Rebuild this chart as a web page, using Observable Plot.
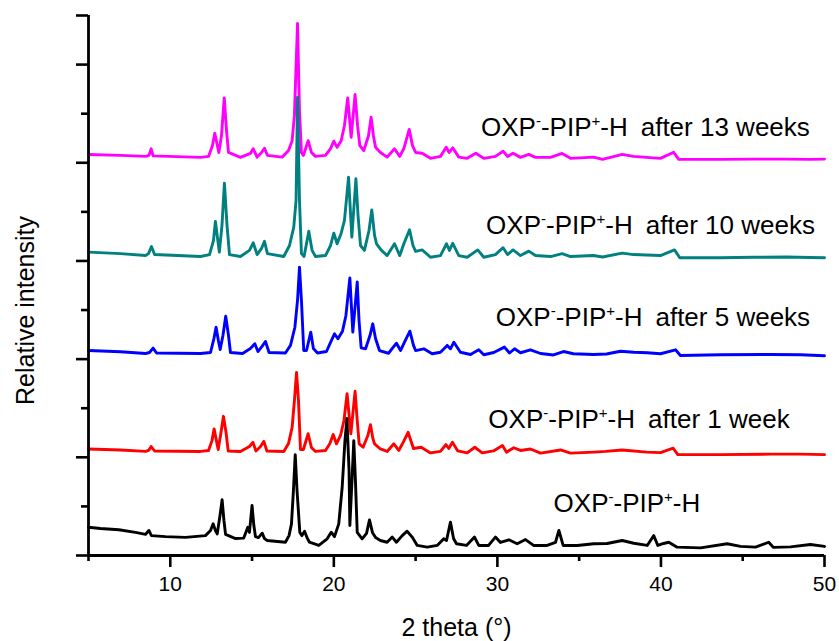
<!DOCTYPE html>
<html><head><meta charset="utf-8">
<script src="https://cdn.jsdelivr.net/npm/d3@7"></script>
<script src="https://cdn.jsdelivr.net/npm/@observablehq/plot@0.6"></script>
<style>body{margin:0;background:#fff} svg{display:block}</style>
</head><body><div id="chart"></div>
<script>
// ---- Data (2θ in degrees, intensity in a.u. relative to each trace's baseline) ----
const seriesNames = ["after 13 weeks", "after 10 weeks", "after 5 weeks", "after 1 week", "initial"];
const seriesLabels = ["OXP⁻-PIP⁺-H\u2002after 13 weeks", "OXP⁻-PIP⁺-H\u2002after 10 weeks", "OXP⁻-PIP⁺-H\u2002after 5 weeks", "OXP⁻-PIP⁺-H\u2002after 1 week", "OXP⁻-PIP⁺-H"];
const offsets = [8150, 6150, 4150, 2150, 0];

const week13 = [[5.0,20],[6.96,0],[8.49,-20],[8.7,0],[8.83,134],[8.95,-10],[11.85,-40],[12.34,-20],[12.58,200],[12.72,450],[12.97,60],[13.13,400],[13.30,1170],[13.44,500],[13.56,60],[14.29,-40],[14.9,40],[15.07,135],[15.31,-35],[15.58,60],[15.76,145],[15.94,0],[16.84,-35],[17.23,100],[17.45,300],[17.59,810],[17.78,2690],[17.90,910],[18.02,60],[18.14,0],[18.43,300],[18.63,60],[18.88,-20],[19.49,0],[19.8,140],[20.0,290],[20.2,165],[20.45,300],[20.65,610],[20.85,1170],[21.06,370],[21.30,1240],[21.45,610],[21.59,200],[21.83,100],[22.12,400],[22.28,780],[22.42,400],[22.55,165],[22.85,60],[23.26,-35],[23.71,135],[24.03,-20],[24.28,140],[24.61,530],[24.81,200],[25.0,60],[25.40,45],[25.91,-60],[26.52,-20],[26.87,165],[27.05,60],[27.27,155],[27.64,-35],[28.15,-60],[28.68,45],[29.17,-60],[29.88,-20],[30.35,85],[30.62,-20],[30.96,45],[31.41,-40],[31.92,20],[32.33,-40],[33.25,-40],[33.96,40],[34.47,-60],[35.89,-35],[36.43,-80],[37.63,20],[38.32,-20],[39.12,-40],[39.97,-60],[40.78,65],[41.09,-80],[43.64,-80],[45.66,-75],[47.68,-75],[49.14,-80],[50,-75]];

const week10 = [[5.0,30],[6.96,0],[8.49,-40],[8.67,0],[8.85,145],[9.04,-20],[11.85,-60],[12.4,-20],[12.64,265],[12.76,655],[12.89,310],[13.0,30],[13.16,570],[13.31,1435],[13.47,570],[13.62,-20],[14.29,-60],[14.84,65],[15.07,220],[15.31,-20],[15.58,105],[15.76,250],[15.94,0],[16.94,-60],[17.29,165],[17.55,540],[17.69,1080],[17.78,3180],[17.90,1080],[18.02,0],[18.18,-60],[18.47,455],[18.67,65],[18.88,-60],[19.49,-40],[19.8,165],[20.0,415],[20.2,200],[20.45,415],[20.65,675],[20.9,1555],[21.1,335],[21.35,1525],[21.48,775],[21.63,165],[21.87,65],[22.15,470],[22.32,890],[22.49,370],[22.61,200],[22.91,65],[23.26,-40],[23.71,200],[24.03,-40],[24.28,200],[24.63,485],[24.84,165],[25.0,45],[25.40,75],[25.91,-75],[26.52,-40],[26.89,200],[27.07,65],[27.27,210],[27.64,-40],[28.15,-75],[28.8,75],[29.17,-75],[29.88,-20],[30.35,120],[30.62,-20],[30.96,75],[31.41,-40],[31.92,50],[32.33,-40],[33.25,-60],[33.96,0],[34.47,-60],[35.87,-40],[36.43,-70],[37.63,10],[38.32,-20],[39.12,-30],[39.97,-40],[40.83,75],[41.15,-85],[43.64,-85],[45.66,-75],[47.68,-70],[49.14,-80],[50,-85]];

const week5 = [[5.0,25],[6.96,0],[8.49,-35],[8.73,-15],[8.95,75],[9.16,-25],[11.85,-35],[12.46,-15],[12.67,270],[12.80,500],[12.94,230],[13.05,45],[13.22,330],[13.39,725],[13.56,330],[13.68,-15],[14.42,-35],[14.9,65],[15.17,165],[15.36,5],[15.61,110],[15.82,210],[16.04,-15],[17.04,-25],[17.35,130],[17.62,500],[17.78,1045],[17.90,1725],[18.02,1045],[18.16,25],[18.33,25],[18.59,400],[18.75,65],[19.0,-25],[19.55,5],[19.8,190],[20.04,365],[20.25,265],[20.53,420],[20.74,740],[20.98,1505],[21.16,400],[21.43,1420],[21.54,640],[21.67,80],[21.94,60],[22.21,330],[22.38,570],[22.55,270],[22.79,25],[23.34,-30],[23.83,175],[24.08,25],[24.32,195],[24.65,420],[24.87,130],[25.0,25],[25.5,60],[26.01,-40],[26.52,-10],[26.93,130],[27.13,60],[27.34,195],[27.74,-10],[28.36,-55],[28.86,40],[29.17,-60],[29.78,-15],[30.43,95],[30.74,-25],[31.05,60],[31.41,-20],[32.02,40],[32.64,-35],[33.43,-65],[34.04,5],[34.65,-40],[35.87,-55],[36.67,-45],[37.53,10],[38.34,-10],[39.16,-20],[39.97,-40],[40.89,40],[41.19,-75],[43.64,-60],[46.7,-55],[48.53,-60],[50,-80]];

const week1 = [[5.0,20],[6.96,0],[8.49,-30],[8.67,-10],[8.83,70],[9.04,-20],[11.85,-30],[12.34,-10],[12.55,190],[12.68,430],[12.82,190],[12.93,10],[13.1,355],[13.25,685],[13.41,355],[13.54,-20],[14.29,-30],[14.84,70],[15.05,155],[15.24,-20],[15.52,70],[15.72,175],[15.91,-20],[16.94,-30],[17.23,130],[17.45,460],[17.59,1005],[17.72,1580],[17.84,1005],[17.96,10],[18.14,10],[18.43,330],[18.63,50],[18.88,-30],[19.49,-10],[19.76,130],[19.96,315],[20.16,125],[20.41,295],[20.62,600],[20.81,1145],[21.04,330],[21.30,1195],[21.43,600],[21.55,125],[21.79,55],[22.08,295],[22.24,515],[22.39,230],[22.49,125],[22.85,20],[23.26,-30],[23.67,125],[23.97,-10],[24.24,155],[24.54,360],[24.87,30],[25.34,55],[25.91,-60],[26.52,-30],[26.85,110],[27.03,30],[27.25,155],[27.58,-20],[28.15,-60],[28.62,55],[29.07,-60],[29.76,-20],[30.31,90],[30.56,-45],[31.0,45],[31.41,-10],[32.02,20],[32.64,-65],[33.86,0],[34.47,-65],[35.89,-45],[36.61,-30],[37.63,0],[39.12,-45],[39.97,-55],[40.75,35],[41.03,-95],[43.64,-95],[46.7,-85],[48.53,-85],[50,-95]];

const initial = [[5.0,575],[5.73,550],[6.85,525],[7.87,470],[8.49,430],[8.69,510],[8.85,405],[9.71,385],[10.93,370],[12.15,405],[12.46,510],[12.62,645],[12.76,510],[12.87,440],[13.04,815],[13.17,1135],[13.28,715],[13.38,430],[13.99,345],[14.49,355],[14.74,575],[14.84,470],[15.0,1020],[15.11,610],[15.21,385],[15.39,365],[15.62,455],[15.76,345],[15.93,305],[17.04,270],[17.26,405],[17.41,645],[17.53,1325],[17.64,2055],[17.75,1325],[17.92,470],[18.05,405],[18.21,495],[18.36,365],[18.51,270],[19.08,205],[19.59,340],[19.84,475],[20.04,385],[20.3,645],[20.51,1390],[20.68,2340],[20.8,2790],[20.93,1730],[20.98,610],[21.11,1530],[21.22,2340],[21.32,1530],[21.43,470],[21.73,340],[22.0,450],[22.18,725],[22.36,470],[22.55,365],[22.85,305],[23.26,270],[23.57,375],[23.83,270],[24.18,405],[24.48,495],[24.79,375],[25.1,205],[25.71,170],[26.32,205],[26.72,340],[26.89,305],[27.13,680],[27.32,345],[27.5,240],[28.11,205],[28.6,375],[28.86,205],[29.46,205],[29.88,375],[30.19,265],[30.7,320],[31.21,240],[31.72,325],[32.21,205],[33.04,205],[33.55,265],[33.76,510],[34.02,205],[34.88,205],[35.89,240],[36.71,245],[37.63,305],[38.34,250],[39.16,205],[39.56,405],[39.81,205],[40.16,245],[40.48,270],[40.99,170],[42.42,155],[44.05,240],[44.86,185],[45.78,170],[46.59,270],[46.88,165],[47.92,175],[49.14,225],[50,185]];

const xMajor = [10, 20, 30, 40, 50];
const xMinor = [5, 15, 25, 35, 45];
const yMajor = [0, 2000, 4000, 6000, 8000, 10000, 11000];
const yMinor = [1000, 3000, 5000, 7000, 9000];

// ---- build table ----
const seriesData = [week13, week10, week5, week1, initial];
const rows = [];
seriesData.forEach((arr, i) => arr.forEach(([t, v]) => rows.push({series: seriesNames[i], theta: t, intensity: v + offsets[i]})));

const colors = ["#ff00ff", "#008080", "#0000ff", "#ff0000", "#000000"];
const labelPos = [[39.05, 8555], [39.36, 6559], [39.51, 4665], [38.66, 2607], [37.92, 876]];
const annotations = seriesLabels.map((text, i) => ({text, x: labelPos[i][0], y: labelPos[i][1]}));

const font = "'Liberation Sans', Arial, Helvetica, sans-serif";
const chart = Plot.plot({
  width: 839, height: 641,
  marginLeft: 88, marginRight: 15, marginTop: 15, marginBottom: 86,
  style: {fontFamily: font, background: "#fff", color: "#000", overflow: "visible"},
  x: {domain: [5, 50]},
  y: {domain: [0, 11000]},
  color: {domain: seriesNames, range: colors},
  marks: [
    Plot.line(rows, {x: "theta", y: "intensity", z: "series", stroke: "series", strokeWidth: 2.9, strokeLinejoin: "round"}),
    Plot.ruleX([5], {y1: 0, y2: 11000, stroke: "#000", strokeWidth: 2.8}),
    Plot.ruleY([0], {x1: 5, x2: 50, stroke: "#000", strokeWidth: 2.8}),
    Plot.axisX(xMajor, {tickSize: 12, tickPadding: 9, fontSize: 21, strokeWidth: 2.6, label: null}),
    Plot.axisX(xMinor, {tickSize: 6, tickFormat: () => "", strokeWidth: 2.6, label: null}),
    Plot.axisY(yMajor, {tickSize: 12, tickFormat: () => "", strokeWidth: 2.6, label: null}),
    Plot.axisY(yMinor, {tickSize: 7, tickFormat: () => "", strokeWidth: 2.6, label: null}),
    Plot.text(annotations, {x: "x", y: "y", text: "text", textAnchor: "middle", lineAnchor: "bottom", fontSize: 26, fill: "#000"}),
    Plot.text(["2 theta (°)"], {frameAnchor: "bottom", dy: 80, textAnchor: "middle", lineAnchor: "bottom", fontSize: 25, fill: "#000"}),
    Plot.text(["Relative intensity"], {frameAnchor: "left", dx: -55, dy: 25, rotate: -90, textAnchor: "middle", lineAnchor: "bottom", fontSize: 25, fill: "#000"})
  ]
});

// superscript charges as real tspans
for (const t of chart.querySelectorAll("text")) {
  const s = t.textContent;
  if (!/[⁻⁺]/.test(s)) continue;
  t.textContent = "";
  let raised = false;
  for (const p of s.split(/([⁻⁺])/)) {
    if (!p) continue;
    const ts = document.createElementNS("http://www.w3.org/2000/svg", "tspan");
    if (p === "⁻" || p === "⁺") {
      ts.textContent = p === "⁻" ? "-" : "+";
      ts.setAttribute("font-size", "15");
      ts.setAttribute("dy", raised ? "0" : "-10");
      raised = true;
    } else {
      ts.textContent = p;
      if (raised) ts.setAttribute("dy", "10");
      raised = false;
    }
    t.appendChild(ts);
  }
}
document.getElementById("chart").appendChild(chart);
</script>
</body></html>
